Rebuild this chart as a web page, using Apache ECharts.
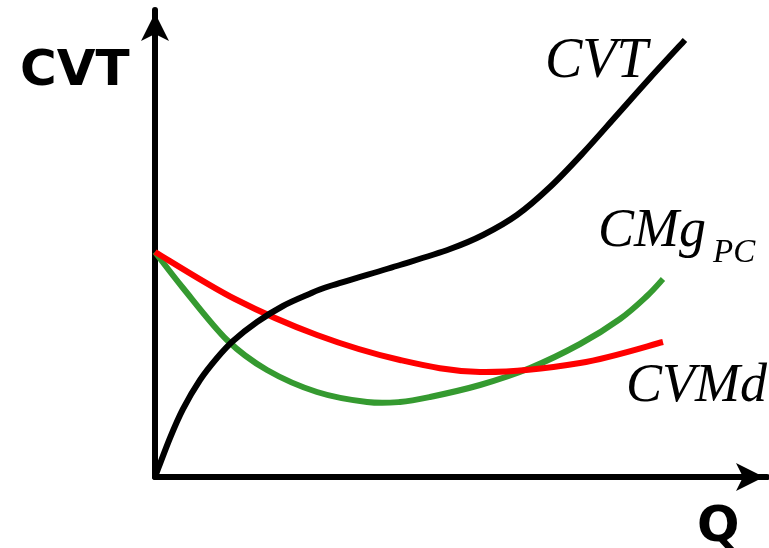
<!DOCTYPE html>
<html>
<head>
<meta charset="utf-8">
<title>CVT</title>
<script src="https://cdn.jsdelivr.net/npm/echarts@6/dist/echarts.min.js"></script>
<style>
  html, body { margin: 0; padding: 0; background: #fff; }
  #chart { width: 769px; height: 548px; }
</style>
</head>
<body>
<div id="chart"></div>
<script>
// curve points (Q, cost)
var cvtQ   = [0, 15, 28, 45, 62, 78, 102, 128, 152, 175, 245, 295, 328, 362, 395, 428, 462, 495, 530];
var cvtY   = [0, 39, 68, 97, 119, 136, 155, 171, 182, 191, 212, 228, 242, 262, 290, 324, 362, 399, 437];
var cvmdQ  = [0, 80, 162, 245, 325, 425, 508];
var cvmdY  = [225, 178, 142, 117, 105, 114, 135];
var cmgQ   = [0, 28, 72, 112, 162, 212, 245, 275, 325, 375, 425, 465, 492, 508];
var cmgY   = [225, 189, 137, 107, 85, 75, 75, 80, 92, 109, 133, 158, 181, 198];

function pairs(xs, ys) {
  var out = [];
  for (var i = 0; i < xs.length; i++) out.push([xs[i], ys[i]]);
  return out;
}

// draws one smooth (catmull-rom) curve through all points of the series
function curve(color) {
  return function (params, api) {
    if (params.dataIndexInside !== 0) return;
    var n = params.dataInsideLength;
    var p = [];
    for (var i = 0; i < n; i++) p.push(api.coord([api.value(0, i), api.value(1, i)]));
    var d = 'M' + p[0][0] + ' ' + p[0][1];
    for (var i = 0; i < n - 1; i++) {
      var p0 = p[Math.max(i - 1, 0)], p1 = p[i], p2 = p[i + 1], p3 = p[Math.min(i + 2, n - 1)];
      var c1x = p1[0] + (p2[0] - p0[0]) / 6, c1y = p1[1] + (p2[1] - p0[1]) / 6;
      var c2x = p2[0] - (p3[0] - p1[0]) / 6, c2y = p2[1] - (p3[1] - p1[1]) / 6;
      d += ' C' + c1x + ' ' + c1y + ' ' + c2x + ' ' + c2y + ' ' + p2[0] + ' ' + p2[1];
    }
    return {
      type: 'path',
      shape: { pathData: d },
      style: { stroke: color, lineWidth: 6, fill: 'none', lineJoin: 'round' }
    };
  };
}

var chart = echarts.init(document.getElementById('chart'));

var axisCommon = {
  type: 'value',
  axisLine: {
    show: true,
    symbol: ['none', 'arrow'],
    symbolSize: [21, 28],
    symbolOffset: [0, -3],
    lineStyle: { color: '#000', width: 6 }
  },
  axisTick: { show: false },
  axisLabel: { show: false },
  splitLine: { show: false }
};

chart.setOption({
  animation: false,
  grid: { left: 155, right: 2, top: 10, bottom: 71 },
  xAxis: Object.assign({}, axisCommon, { min: 0, max: 612 }),
  yAxis: Object.assign({}, axisCommon, { min: 0, max: 467 }),
  series: [
    {
      name: 'CMg', type: 'custom', data: pairs(cmgQ, cmgY), z: 1,
      encode: { x: 0, y: 1 }, clip: false, renderItem: curve('#359a30')
    },
    {
      name: 'CVMd', type: 'custom', data: pairs(cvmdQ, cvmdY), z: 2,
      encode: { x: 0, y: 1 }, clip: false, renderItem: curve('#ff0000')
    },
    {
      name: 'CVT', type: 'custom', data: pairs(cvtQ, cvtY), z: 3,
      encode: { x: 0, y: 1 }, clip: false, renderItem: curve('#000')
    }
  ],
  graphic: [
    { type: 'text', left: 20, top: 47,
      style: { text: 'CVT', font: 'bold 50px "DejaVu Sans"', fill: '#000' } },
    { type: 'text', left: 697, top: 503,
      style: { text: 'Q', font: 'bold 50px "DejaVu Sans"', fill: '#000' } },
    { type: 'text', left: 545, top: 34,
      style: { text: 'CVT', font: 'italic 56px "Liberation Serif"', fill: '#000' } },
    { type: 'text', left: 598, top: 205,
      style: { text: 'CMg', font: 'italic 54px "Liberation Serif"', fill: '#000' } },
    { type: 'text', left: 713, top: 237,
      style: { text: 'PC', font: 'italic 33px "Liberation Serif"', fill: '#000' } },
    { type: 'text', left: 626, top: 360,
      style: { text: 'CVMd', font: 'italic 54px "Liberation Serif"', fill: '#000' } }
  ]
});
</script>
</body>
</html>
